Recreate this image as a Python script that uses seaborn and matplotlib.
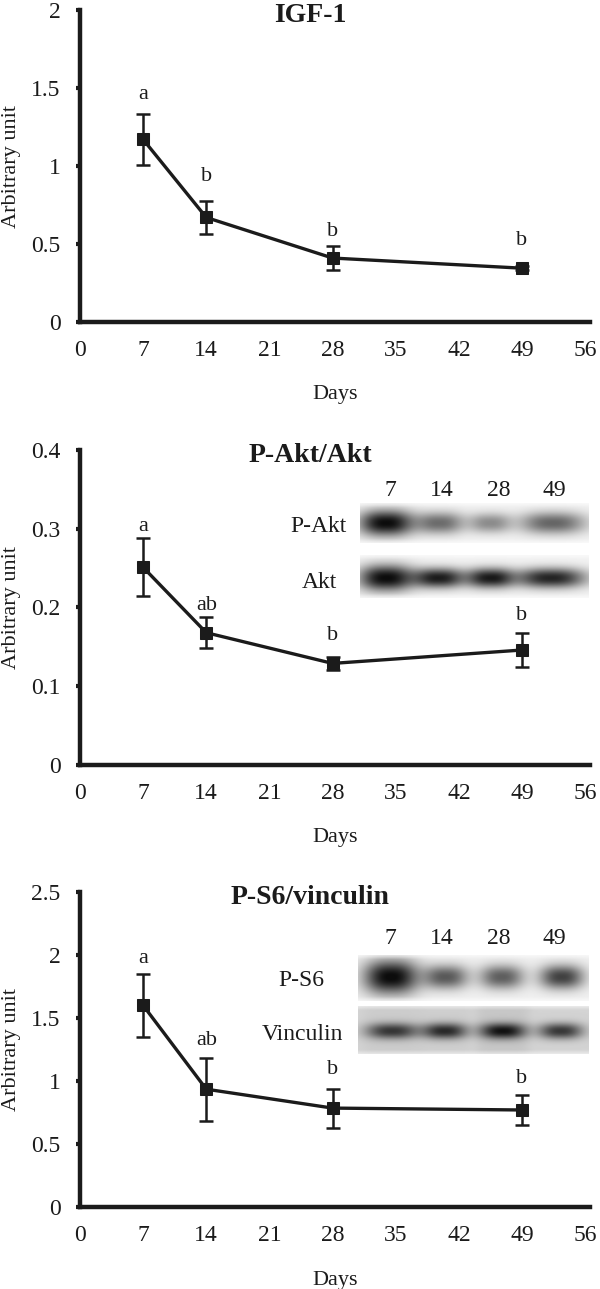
import numpy as np
import pandas as pd
import matplotlib
matplotlib.use("Agg")
import matplotlib.pyplot as plt
import seaborn as sns

# ---------------- data ----------------
days = [7, 14, 28, 49]
x_ticks = [0, 7, 14, 21, 28, 35, 42, 49, 56]

igf_mean = [1.17, 0.67, 0.41, 0.345]
igf_err = [0.165, 0.105, 0.075, 0.012]
igf_letters = ["a", "b", "b", "b"]
igf_letter_y = [1.46, 0.93, 0.58, 0.52]

akt_mean = [0.251, 0.168, 0.129, 0.146]
akt_err = [0.037, 0.020, 0.008, 0.021]
akt_letters = ["a", "ab", "b", "b"]
akt_letter_y = [0.303, 0.202, 0.165, 0.190]

s6_mean = [1.60, 0.935, 0.785, 0.770]
s6_err = [0.25, 0.25, 0.155, 0.12]
s6_letters = ["a", "ab", "b", "b"]
s6_letter_y = [1.976, 1.32, 1.09, 1.02]

titles = ["IGF-1", "P-Akt/Akt", "P-S6/vinculin"]
y_limits = [2.0, 0.4, 2.5]
y_ticks = [[0, 0.5, 1, 1.5, 2], [0, 0.1, 0.2, 0.3, 0.4], [0, 0.5, 1, 1.5, 2, 2.5]]
y_ticklabels = [["0", "0.5", "1", "1.5", "2"],
                ["0", "0.1", "0.2", "0.3", "0.4"],
                ["0", "0.5", "1", "1.5", "2", "2.5"]]

# blot band darkness (0 = white, 1 = black)
pakt_band = [0.95, 0.55, 0.42, 0.58]
akt_band = [0.95, 0.88, 0.88, 0.85]
ps6_band = [0.95, 0.62, 0.60, 0.72]
vinc_band = [0.62, 0.68, 0.75, 0.64]
blot_lanes = ["7", "14", "28", "49"]

# ---------------- style ----------------
sns.set_theme(style="white")
plt.rcParams["font.family"] = ["Liberation Serif", "DejaVu Serif"]
INK = "#1b1b1b"
FS = 17

W, H = 600, 1289
fig = plt.figure(figsize=(W / 100, H / 100), dpi=100)


def fx(px):
    return px / W


def fy(py):
    return 1 - py / H


X0, X1 = 80, 589.6  # pixel positions of x=0 and x=56.5
panel_px = [(10, 322), (450, 765), (892, 1207)]
means = [igf_mean, akt_mean, s6_mean]
errs = [igf_err, akt_err, s6_err]
letters = [igf_letters, akt_letters, s6_letters]
letter_ys = [igf_letter_y, akt_letter_y, s6_letter_y]

for i, (top, bot) in enumerate(panel_px):
    ax = fig.add_axes([fx(X0), fy(bot), fx(X1) - fx(X0), (bot - top) / H])
    df = pd.DataFrame({"Days": days, "value": means[i]})
    ax.errorbar(days, means[i], yerr=errs[i], fmt="none", ecolor=INK,
                elinewidth=1.8, capsize=5, capthick=1.8, zorder=2)
    sns.lineplot(data=df, x="Days", y="value", ax=ax, color=INK, lw=2.4,
                 marker="s", markersize=8, markeredgecolor=INK,
                 markerfacecolor=INK, zorder=3)
    for d, lab, ly in zip(days, letters[i], letter_ys[i]):
        ax.text(d, ly, lab, ha="center", va="center", fontsize=FS - 1, color=INK)
    ax.set_xlim(0, 56.5)
    ax.set_ylim(0, y_limits[i])
    ax.set_xticks(x_ticks)
    ax.set_xticklabels([str(t) for t in x_ticks])
    ax.set_yticks(y_ticks[i])
    ax.set_yticklabels(y_ticklabels[i])
    for s in ["top", "right"]:
        ax.spines[s].set_visible(False)
    for s in ["left", "bottom"]:
        ax.spines[s].set_linewidth(3.2)
        ax.spines[s].set_color(INK)
    ax.tick_params(axis="y", direction="out", length=3, width=3, color=INK,
                   labelsize=FS, labelcolor=INK, pad=11, left=True)
    ax.tick_params(axis="x", length=0, labelsize=FS, labelcolor=INK, pad=13,
                   bottom=True)
    ax.set_xlabel("Days", fontsize=FS - 1, color=INK)
    ax.xaxis.label.set_va("center")
    ax.xaxis.set_label_coords(0.5, -73 / (bot - top))
    ax.set_ylabel("Arbitrary unit", fontsize=FS - 1, color=INK)
    ax.yaxis.label.set_va("center")
    ax.yaxis.set_label_coords(-68 / (X1 - X0), 0.5)
    ax.text((310 - X0) / (X1 - X0), 1 - 5 / (bot - top),
            titles[i], transform=ax.transAxes, ha="center", va="center",
            fontsize=20, fontweight="bold", color=INK)
    ax.grid(False)


def draw_strip(x_left, x_right, y_top, y_bot, bg, lanes, amps, yc, hh, bg_shade=None):
    """lanes: list of (center_px, half_width_px); hh: list of half heights"""
    nx, ny = int(x_right - x_left) * 2, int(y_bot - y_top) * 2
    xs = np.linspace(x_left, x_right, nx)
    ys = np.linspace(y_top, y_bot, ny)
    X, Y = np.meshgrid(xs, ys)
    img = np.full_like(X, bg, dtype=float)
    if bg_shade is not None:
        for (c, hw), sh in zip(lanes, bg_shade):
            img += sh * np.exp(-(np.abs(X - c) / (hw + 4)) ** 6)
    for (c, hw), a, h in zip(lanes, amps, hh):
        img += a * np.exp(-(np.abs(X - c) / hw) ** 2.5) * np.exp(-(np.abs(Y - yc) / h) ** 2.2)
    # soft fade at strip top/bottom edges
    edge = np.clip(np.minimum(Y - y_top, y_bot - Y) / 4.0, 0, 1)
    img = img * (0.5 + 0.5 * edge)
    img = np.clip(img, 0, 1)
    bax = fig.add_axes([fx(x_left), fy(y_bot), fx(x_right) - fx(x_left), (y_bot - y_top) / H])
    bax.imshow(img, cmap="gray_r", vmin=0, vmax=1.05, aspect="auto",
               interpolation="bilinear")
    bax.set_axis_off()


# P-Akt / Akt blot (panel 2)
draw_strip(360, 589, 503, 543, 0.05,
           [(386, 27), (440, 24), (490, 21), (553, 33)], pakt_band, 523,
           [13, 11, 10, 11])
draw_strip(360, 589, 555, 598, 0.05,
           [(386, 27), (439, 25), (490, 23), (551, 35)], akt_band, 578,
           [13, 10, 10, 10])
for lab, cx in zip(blot_lanes, [390, 442, 499, 554]):
    fig.text(fx(cx), fy(490), lab, ha="center", va="center", fontsize=FS, color=INK)
fig.text(fx(318), fy(526), "P-Akt", ha="center", va="center", fontsize=FS, color=INK)
fig.text(fx(319), fy(582), "Akt", ha="center", va="center", fontsize=FS, color=INK)

# P-S6 / vinculin blot (panel 3)
draw_strip(358, 589, 955, 1001, 0.06,
           [(391, 27), (446, 22), (502, 22), (562, 22)], ps6_band, 977,
           [17, 12, 12, 12])
draw_strip(358, 589, 1006, 1054, 0.18,
           [(392, 26), (445, 22), (503, 23), (561, 22)], vinc_band, 1031,
           [8, 8, 8, 8], bg_shade=[0.03, 0.02, 0.05, 0.0])
for lab, cx in zip(blot_lanes, [390, 442, 499, 554]):
    fig.text(fx(cx), fy(939), lab, ha="center", va="center", fontsize=FS, color=INK)
fig.text(fx(301), fy(980), "P-S6", ha="center", va="center", fontsize=FS, color=INK)
fig.text(fx(302), fy(1034), "Vinculin", ha="center", va="center", fontsize=FS, color=INK)

fig.savefig("out.png", dpi=100, facecolor="white")
